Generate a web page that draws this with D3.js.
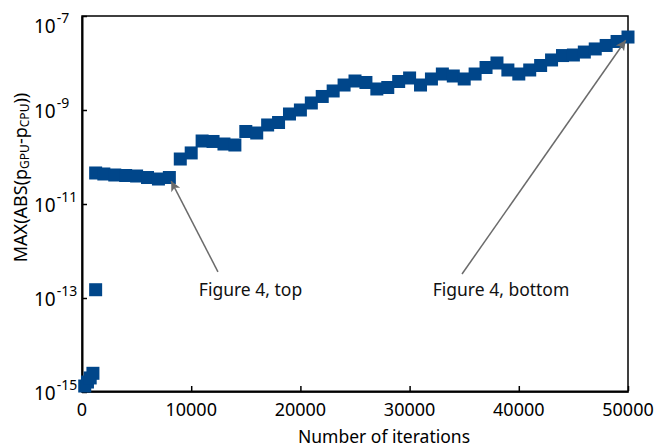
<!DOCTYPE html>
<html>
<head>
<meta charset="utf-8">
<script src="https://cdn.jsdelivr.net/npm/d3@7"></script>
<style>
  html, body { margin: 0; padding: 0; background: #fff; }
  svg { display: block; font-family: "Noto Sans", "Open Sans", sans-serif; }
</style>
</head>
<body>
<svg id="chart" width="658" height="448"></svg>
<script>
// Iteration count at each checkpoint
const iterations = [
  250, 500, 750, 1000, 1250, 1250,
  2000, 3000, 4000, 5000, 6000, 7000, 8000, 9000, 10000,
  11000, 12000, 13000, 14000, 15000, 16000, 17000, 18000, 19000, 20000,
  21000, 22000, 23000, 24000, 25000, 26000, 27000, 28000, 29000, 30000,
  31000, 32000, 33000, 34000, 35000, 36000, 37000, 38000, 39000, 40000,
  41000, 42000, 43000, 44000, 45000, 46000, 47000, 48000, 49000, 50000
];
// Max absolute difference between GPU and CPU results
const maxAbsDiff = [
  1.34e-15, 1.63e-15, 1.99e-15, 2.5e-15, 1.5e-13, 4.57e-11,
  4.35e-11, 4.14e-11, 4.04e-11, 3.94e-11, 3.66e-11, 3.40e-11, 3.66e-11, 9.06e-11, 1.22e-10,
  2.19e-10, 2.14e-10, 1.89e-10, 1.80e-10, 3.49e-10, 3.24e-10, 4.80e-10, 5.42e-10, 8.22e-10, 1.0e-9,
  1.41e-9, 1.94e-9, 2.54e-9, 3.40e-9, 4.14e-9, 3.85e-9, 2.80e-9, 3.01e-9, 4.04e-9, 4.80e-9,
  3.40e-9, 4.57e-9, 5.83e-9, 5.29e-9, 4.57e-9, 5.83e-9, 8.02e-9, 1.0e-8, 7.10e-9, 5.83e-9,
  7.10e-9, 8.85e-9, 1.16e-8, 1.44e-8, 1.48e-8, 1.71e-8, 1.99e-8, 2.36e-8, 2.87e-8, 3.57e-8
];
const xTicks = [0, 10000, 20000, 30000, 40000, 50000];
const yTickExponents = [-15, -13, -11, -9, -7];

// Callouts: label position, arrow tail, and the checkpoint the arrow points at
const calloutText = ["Figure 4, top", "Figure 4, bottom"];
const calloutLabelIter = [15430, 38370];
const calloutLabelValue = [1.1e-13, 1.1e-13];
const calloutTailIter = [12450, 34800];
const calloutTailValue = [3.6e-13, 3.24e-13];
const calloutTargetIndex = [12, 54];

(function draw() {
  const svg = d3.select("#chart");
  const plotLeft = 82, plotRight = 628, plotTop = 16, plotBottom = 392;

  const x = d3.scaleLinear().domain([0, 50000]).range([plotLeft, plotRight]);
  const y = d3.scaleLog().domain([1e-15, 1e-7]).range([plotBottom, plotTop]);

  const markColor = "#00468a";
  const markSize = 13;

  // frame
  svg.append("rect")
    .attr("x", plotLeft).attr("y", plotTop)
    .attr("width", plotRight - plotLeft).attr("height", plotBottom - plotTop)
    .attr("fill", "none").attr("stroke", "#000").attr("stroke-width", 1.5);

  // x axis with inward ticks
  const xAxis = svg.append("g")
    .attr("transform", `translate(0,${plotBottom - 1})`)
    .call(d3.axisBottom(x).tickValues(xTicks).tickSizeInner(-5).tickSizeOuter(0).tickFormat(""));
  xAxis.select(".domain").attr("stroke-width", 2);
  xAxis.selectAll(".tick line").attr("stroke-width", 1.5);

  svg.append("g").selectAll("text")
    .data(xTicks).join("text")
    .attr("x", d => x(d)).attr("y", 416)
    .attr("text-anchor", "middle")
    .attr("font-size", 18)
    .attr("fill", "#000")
    .text(d => d3.format("d")(d));

  // y axis with inward ticks
  const yAxis = svg.append("g")
    .attr("transform", `translate(${plotLeft},0)`)
    .call(d3.axisLeft(y).tickValues(yTickExponents.map(e => Math.pow(10, e)))
      .tickSizeInner(-5).tickSizeOuter(0).tickFormat(""));
  yAxis.select(".domain").attr("stroke-width", 2);
  yAxis.selectAll(".tick line").attr("stroke-width", 1.5);

  // power-of-ten labels; the topmost one is nudged down to stay inside the canvas
  const topExp = d3.max(yTickExponents);
  const yLabels = svg.append("g").selectAll("text")
    .data(yTickExponents).join("text")
    .attr("x", 34)
    .attr("y", e => y(Math.pow(10, e)) + 7.5 + (e === topExp ? 9.5 : 0))
    .attr("fill", "#000");
  yLabels.append("tspan").attr("font-size", 19).text("10");
  yLabels.append("tspan").attr("font-size", 14).attr("dx", 1).attr("dy", -10).text(e => "-" + Math.abs(e));

  // axis titles
  svg.append("text")
    .attr("x", 384).attr("y", 443)
    .attr("text-anchor", "middle")
    .attr("font-size", 17.5)
    .attr("fill", "#000")
    .text("Number of iterations");

  const yTitle = svg.append("text")
    .attr("transform", "translate(27,177.5) rotate(-90)")
    .attr("text-anchor", "middle")
    .attr("font-size", 18)
    .attr("fill", "#000");
  yTitle.append("tspan").text("MAX(ABS(p");
  yTitle.append("tspan").attr("font-size", 12).attr("dy", 2).text("GPU");
  yTitle.append("tspan").attr("dy", -2).text("-p");
  yTitle.append("tspan").attr("font-size", 12).attr("dy", 2).text("CPU");
  yTitle.append("tspan").attr("dy", -2).text("))");

  // data markers
  const points = iterations.map((it, i) => ({ it, v: maxAbsDiff[i] }));
  svg.append("g").selectAll("rect")
    .data(points).join("rect")
    .attr("x", d => x(d.it) - markSize / 2)
    .attr("y", d => y(d.v) - markSize / 2)
    .attr("width", markSize).attr("height", markSize)
    .attr("fill", markColor);

  // callout arrows
  const defs = svg.append("defs");
  defs.append("marker")
    .attr("id", "head")
    .attr("viewBox", "0 0 10 10")
    .attr("refX", 10).attr("refY", 5)
    .attr("markerUnits", "userSpaceOnUse")
    .attr("markerWidth", 15).attr("markerHeight", 10)
    .attr("orient", "auto")
    .append("path")
    .attr("d", "M0,0 L10,5 L0,10 L2.5,5 Z")
    .attr("fill", "#6b6b6b");

  const callouts = calloutText.map((t, i) => ({
    t,
    lx: x(calloutLabelIter[i]), ly: y(calloutLabelValue[i]),
    tx: x(calloutTailIter[i]), ty: y(calloutTailValue[i]),
    px: x(iterations[calloutTargetIndex[i]]), py: y(maxAbsDiff[calloutTargetIndex[i]])
  }));

  const tip = (d, k) => {
    const dx = d.px - d.tx, dy = d.py - d.ty, L = Math.hypot(dx, dy);
    return k === "x" ? d.px - dx / L * 4 : d.py - dy / L * 4;
  };

  svg.append("g").selectAll("line")
    .data(callouts).join("line")
    .attr("x1", d => d.tx).attr("y1", d => d.ty)
    .attr("x2", d => tip(d, "x"))
    .attr("y2", d => tip(d, "y"))
    .attr("stroke", "#6b6b6b").attr("stroke-width", 1.5)
    .attr("marker-end", "url(#head)");

  svg.append("g").selectAll("text")
    .data(callouts).join("text")
    .attr("x", d => d.lx).attr("y", d => d.ly)
    .attr("text-anchor", "middle")
    .attr("font-size", 17.5)
    .attr("fill", "#111")
    .text(d => d.t);
})();
</script>
</body>
</html>
